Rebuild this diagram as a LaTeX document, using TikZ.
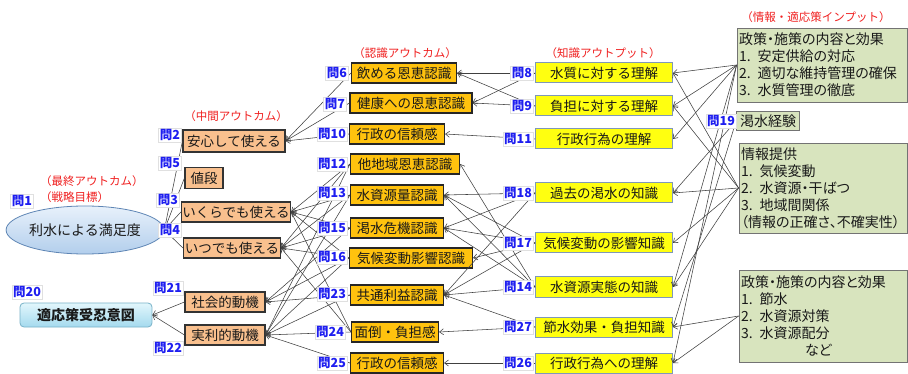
\documentclass[tikz,border=0pt]{standalone}
\usepackage{fontspec}
\setmainfont{Noto Sans CJK JP}
\newfontfamily\jpp{Noto Sans CJK JP}[RawFeature=+palt]
\usetikzlibrary{shapes.geometric,arrows.meta}
\definecolor{qblue}{HTML}{1E1EF0}
\definecolor{orangefill}{HTML}{F9C08E}
\definecolor{goldfill}{HTML}{FFC20E}
\definecolor{yelfill}{HTML}{FFFF10}
\definecolor{yelborder}{HTML}{7F98B8}
\definecolor{greenfill}{HTML}{D8E4BE}
\definecolor{redtext}{HTML}{F02020}
\definecolor{linecol}{HTML}{404040}
\begin{document}
\begin{tikzpicture}[x=1pt,y=-1pt,
  every node/.style={font=\fontsize{13.5}{15}\selectfont, inner sep=1pt, text=black!90},
  ql/.style={fill=white, draw=black!12, text=qblue, font=\fontsize{12.5}{12.5}\bfseries\selectfont, inner sep=1.3pt},
  obox/.style={draw=black!80, line width=1.1pt, fill=orangefill, minimum height=20},
  gbox/.style={draw=black!85, line width=1.1pt, fill=goldfill, minimum height=20},
  ybox/.style={draw=yelborder, line width=1pt, fill=yelfill, minimum width=137, minimum height=20},
  grbox/.style={draw=black!55, line width=0.8pt, fill=greenfill, align=left, inner sep=2pt, font=\jpp\fontsize{14}{17}\selectfont},
  redlab/.style={text=redtext, font=\fontsize{11.5}{11.5}\selectfont},
  arr/.style={draw=linecol, line width=0.55pt, -{Straight Barb[length=4pt,width=6pt]}}
]
\fill[white] (0,0) rectangle (908,374);
\useasboundingbox (0,0) rectangle (908,374);

% ---- left column
\node[ellipse, draw={rgb,255:red,95;green,134;blue,181}, line width=0.8pt,
      top color={rgb,255:red,232;green,241;blue,251}, bottom color={rgb,255:red,178;green,206;blue,236},
      minimum width=125, minimum height=48, inner sep=0pt, font=\fontsize{14}{16}\selectfont] (n1) at (85,230) {利水による満足度};
\node[rounded corners=4pt, draw={rgb,255:red,120;green,178;blue,200}, line width=0.8pt,
      top color={rgb,255:red,226;green,246;blue,252}, bottom color={rgb,255:red,164;green,218;blue,238},
      minimum width=132, minimum height=24, font=\fontsize{14}{16}\bfseries\selectfont] (n20) at (86,315) {適応策受忍意図};
\node[redlab, anchor=west] at (39,181) {（最終アウトカム）};
\node[redlab, anchor=west] at (39,197) {（戦略目標）};

% ---- intermediate outcomes
\node[redlab] at (236,116) {（中間アウトカム）};
\node[obox, minimum width=102, minimum height=22] (anshin) at (234,141) {安心して使える};
\node[obox, minimum width=38, minimum height=21] (nedan) at (204,178) {値段};
\node[obox, minimum width=105] (ikura) at (236,212) {いくらでも使える};
\node[obox, minimum width=97] (itsu) at (232,248) {いつでも使える};
\node[obox, minimum width=80] (shakai) at (225,302) {社会的動機};
\node[obox, minimum width=80] (jitsuri) at (225,335) {実利的動機};

% ---- recognition outcomes
\node[redlab] at (405,53) {（認識アウトカム）};
\node[gbox, minimum width=105] (n6) at (404,73) {飲める恩恵認識};
\node[gbox, minimum width=122] (n7) at (411,103) {健康への恩恵認識};
\node[gbox, minimum width=95] (n10) at (397,134) {行政の信頼感};
\node[gbox, minimum width=109] (n12) at (405,164) {他地域恩恵認識};
\node[gbox, minimum width=93] (n13) at (397,195) {水資源量認識};
\node[gbox, minimum width=93] (n15) at (397,228) {渇水危機認識};
\node[gbox, minimum width=123] (n16) at (411,258) {気候変動影響認識};
\node[gbox, minimum width=93] (n23) at (397,295) {共通利益認識};
\node[gbox, minimum width=87] (n24) at (395,332) {面倒・負担感};
\node[gbox, minimum width=93] (n25) at (397,363) {行政の信頼感};

% ---- knowledge outputs
\node[redlab] at (603,53) {（知識アウトプット）};
\node[ybox] (k8) at (604,73) {水質に対する理解};
\node[ybox] (k9) at (604,106) {負担に対する理解};
\node[ybox] (k11) at (604,139) {行政行為の理解};
\node[ybox] (k18) at (604,193) {過去の渇水の知識};
\node[ybox] (k17) at (604,243) {気候変動の影響知識};
\node[ybox] (k14) at (604,287) {水資源実態の知識};
\node[ybox] (k27) at (604,327) {節水効果・負担知識};
\node[ybox] (k26) at (604,363) {行政行為への理解};

% ---- inputs
\node[redlab] at (816,17) {（情報・適応策インプット）};
\node[grbox, text width=166, minimum height=74] (g1) at (822,65)
  {政策・施策の内容と効果\\1. 安定供給の対応\\2. 適切な維持管理の確保\\3. 水質管理の徹底};
\node[grbox, minimum width=63, minimum height=19, inner sep=1pt] (g19) at (768,121) {渇水経験};
\node[grbox, text width=164, minimum height=90] (g2) at (823,188)
  {情報提供\\1. 気候変動\\2. 水資源・干ばつ\\3. 地域間関係\\（情報の正確さ、不確実性）};
\node[grbox, text width=164, minimum height=92] (g3) at (823,316)
  {政策・施策の内容と効果\\1. 節水\\2. 水資源対策\\3. 水資源配分\\\hspace*{64pt}など};

% ---- connectors: outcomes
\foreach \s in {anshin,nedan,ikura,itsu} \draw[arr] (\s.west) -- (n1.east);
\foreach \s in {shakai,jitsuri} \draw[arr] (\s.west) -- (n20.east);

% ---- recognition -> intermediate
\foreach \s in {n6,n7,n10} \draw[arr] (\s.west) -- (anshin.east);
\foreach \s/\t in {n12/ikura,n12/itsu,n12/jitsuri,
                   n13/ikura,n13/itsu,n13/jitsuri,
                   n15/ikura,n15/itsu,n15/shakai,
                   n16/ikura,n16/itsu,n16/shakai,n16/jitsuri,
                   n23/shakai,n23/jitsuri,
                   n24/ikura,n24/itsu,n24/jitsuri,
                   n25/jitsuri}
  \draw[arr] (\s.west) -- (\t.east);

% ---- knowledge -> recognition
\foreach \s/\t in {k8/n6,k8/n7,k9/n6,k9/n7,k11/n10,
                   k18/n13,k18/n15,k18/n23,
                   k17/n13,k17/n15,k17/n16,k17/n23,
                   k14/n12,k14/n13,k14/n15,k14/n23,
                   k27/n23,k27/n24,k26/n25}
  \draw[arr] (\s.west) -- (\t.east);

% ---- inputs -> knowledge
\foreach \t in {k8,k9,k11,k14,k26} \draw[arr] (g1.west) -- (\t.east);
\foreach \t in {k8,k9,k18,k17,k14} \draw[arr] (g2.west) -- (\t.east);
\foreach \t in {k18,k27} \draw[arr] (g19.west) -- (\t.east);
\foreach \t in {k27,k26} \draw[arr] (g3.west) -- (\t.east);

% ---- question labels
\node[ql] at (22,201) {問1};
\node[ql] at (27,292) {問20};
\node[ql] at (170,135) {問2};
\node[ql] at (170,163) {問5};
\node[ql] at (168,200) {問3};
\node[ql] at (170,230) {問4};
\node[ql] at (168,288) {問21};
\node[ql] at (168,348) {問22};
\node[ql] at (337,73) {問6};
\node[ql] at (335,104) {問7};
\node[ql] at (332,134) {問10};
\node[ql] at (332,164) {問12};
\node[ql] at (332,193) {問13};
\node[ql] at (332,228) {問15};
\node[ql] at (332,257) {問16};
\node[ql] at (332,294) {問23};
\node[ql] at (330,332) {問24};
\node[ql] at (332,363) {問25};
\node[ql] at (522,73) {問8};
\node[ql] at (522,106) {問9};
\node[ql] at (518,139) {問11};
\node[ql] at (518,193) {問18};
\node[ql] at (518,243) {問17};
\node[ql] at (518,287) {問14};
\node[ql] at (518,327) {問27};
\node[ql] at (518,363) {問26};
\node[ql] at (721,121) {問19};
\end{tikzpicture}
\end{document}
